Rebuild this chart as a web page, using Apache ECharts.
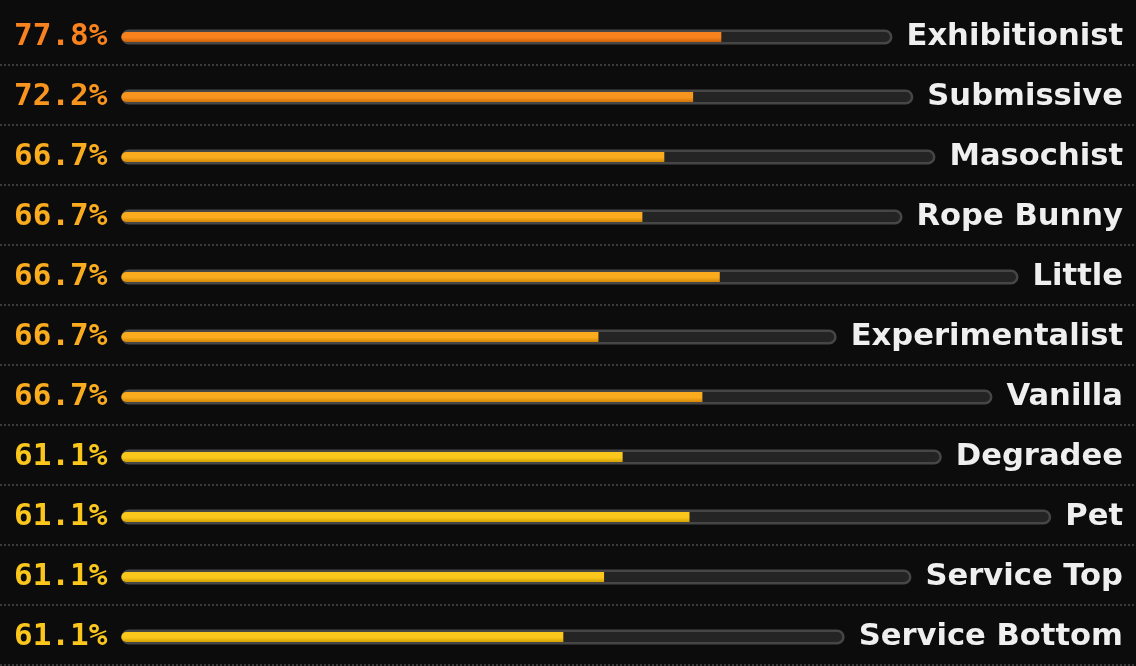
<!DOCTYPE html>
<html>
<head>
<meta charset="utf-8">
<script src="https://cdn.jsdelivr.net/npm/echarts@6/dist/echarts.min.js"></script>
<style>
  html, body { margin: 0; padding: 0; background: #0c0c0c; }
  #chart { width: 1136px; height: 666px; }
</style>
</head>
<body>
<div id="chart"></div>
<script>
const names = ['Exhibitionist', 'Submissive', 'Masochist', 'Rope Bunny', 'Little', 'Experimentalist',
  'Vanilla', 'Degradee', 'Pet', 'Service Top', 'Service Bottom']
const percents = [77.8, 72.2, 66.7, 66.7, 66.7, 66.7, 66.7, 61.1, 61.1, 61.1, 61.1]

const tierColor = (v) => {
  if (v >= 75) return '#f7821e'
  if (v >= 70) return '#f8951e'
  if (v >= 65) return '#faab1e'
  return '#fcc71c'
}

const ROW_H = 60
const grids = [], xAxes = [], yAxes = [], series = []

// background grid that only carries the dotted separators
grids.push({ left: 0, right: 0, top: 65, bottom: 1 })
xAxes.push({ gridIndex: 0, type: 'value', show: false })
yAxes.push({
  gridIndex: 0, type: 'value', min: 0, max: 10, interval: 1,
  axisLine: { show: false }, axisTick: { show: false }, axisLabel: { show: false },
  splitLine: { show: true, lineStyle: { color: '#3a3a3a', type: [2, 2], width: 2 } }
})

names.forEach((name, i) => {
  const g = i + 1
  const color = tierColor(percents[i])
  grids.push({ left: 14, right: 13, top: 17 + i * ROW_H, height: ROW_H, containLabel: true })
  xAxes.push({ gridIndex: g, type: 'value', min: 0, max: 100, show: false })
  yAxes.push({
    gridIndex: g, type: 'category', position: 'left', data: [percents[i].toFixed(1) + '%'],
    axisLine: { show: false }, axisTick: { show: false }, splitLine: { show: false },
    axisLabel: {
      margin: 14, color: color, fontFamily: 'DejaVu Sans Mono', fontWeight: 'bold', fontSize: 31
    }
  })
  yAxes.push({
    gridIndex: g, type: 'category', position: 'right', data: [name],
    axisLine: { show: false }, axisTick: { show: false }, splitLine: { show: false },
    axisLabel: {
      margin: 14, color: '#efefef', fontFamily: 'DejaVu Sans', fontWeight: 'bold', fontSize: 30.6
    }
  })
  // track
  series.push({
    type: 'bar', xAxisIndex: g, yAxisIndex: 2 * i + 1, data: [100], barWidth: 15, silent: true,
    itemStyle: { color: '#242424', borderColor: '#464646', borderWidth: 2.5, borderRadius: 8 }
  })
  // fill
  series.push({
    type: 'bar', xAxisIndex: g, yAxisIndex: 2 * i + 2, data: [percents[i]], barWidth: 10, silent: true,
    itemStyle: {
      borderRadius: [5, 0, 0, 5],
      color: new echarts.graphic.LinearGradient(0, 0, 0, 1, [
        { offset: 0, color: color },
        { offset: 0.55, color: color },
        { offset: 1, color: echarts.color.modifyHSL(color, null, null, 0.42) }
      ])
    }
  })
})

const myChart = echarts.init(document.getElementById('chart'))
myChart.setOption({
  backgroundColor: '#0c0c0c',
  animation: false,
  grid: grids,
  xAxis: xAxes,
  yAxis: yAxes,
  series: series
})
</script>
</body>
</html>
